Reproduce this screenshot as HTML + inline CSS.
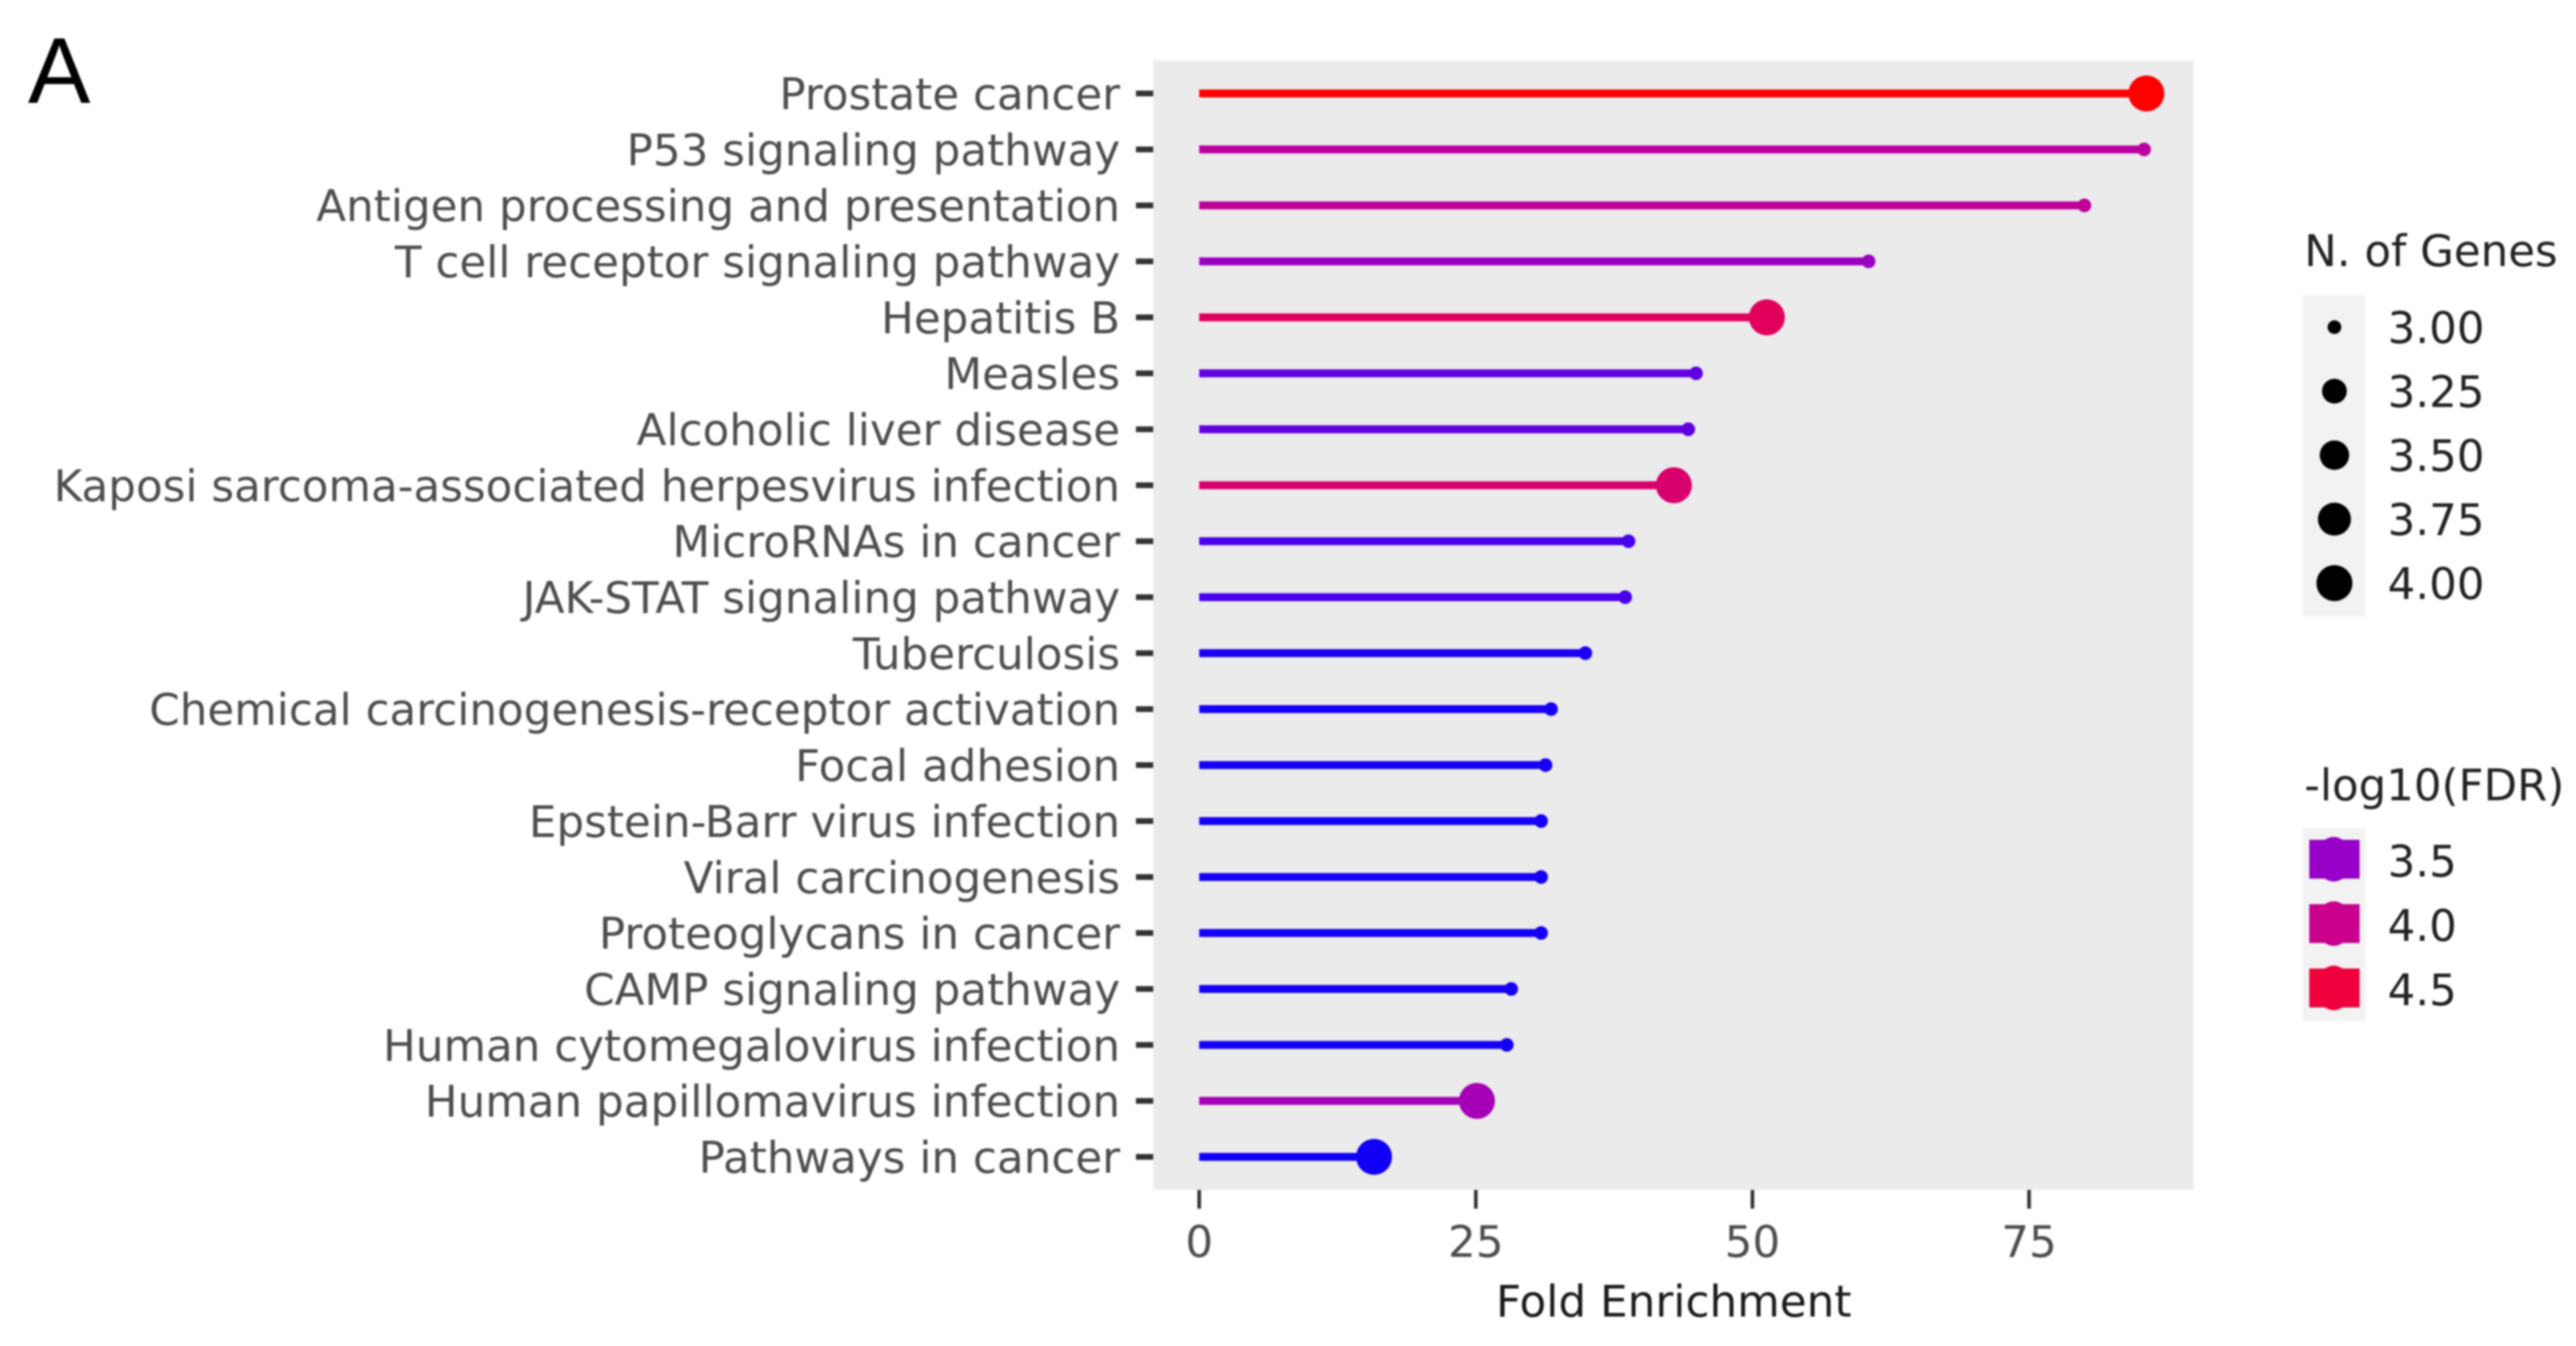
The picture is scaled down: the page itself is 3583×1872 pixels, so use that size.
<!DOCTYPE html>
<html lang="en">
<head>
<meta charset="utf-8">
<title>Fold Enrichment lollipop chart</title>
<style>
html,body{margin:0;padding:0;background:#fff;width:3583px;height:1872px;overflow:hidden}
svg{display:block;filter:blur(1.4px)}
text{font-family:"DejaVu Sans","Liberation Sans",sans-serif}
</style>
</head>
<body>
<svg id="chart" xmlns="http://www.w3.org/2000/svg" width="3583" height="1872" viewBox="0 0 3583 1872">
<rect x="0" y="0" width="3583" height="1872" fill="#fff"/>
<text x="39" y="143" font-size="130" fill="#000" style="font-family:'Liberation Sans',sans-serif">A</text>
<rect x="1604" y="84" width="1447" height="1571" fill="#ebebeb"/>
<text x="2328" y="1831" font-size="60.8" text-anchor="middle" fill="#1a1a1a">Fold Enrichment</text>
<text x="3205" y="370" font-size="60.5" fill="#222">N. of Genes</text>
<rect x="3203" y="410" width="87" height="447" fill="#f2f2f2"/>
<text x="3205" y="1113" font-size="60.5" fill="#222">-log10(FDR)</text>
<rect x="3203" y="1152" width="87" height="268" fill="#f2f2f2"/>
<g id="layer"></g>
</svg>
<script>
const categories = ["Prostate cancer","P53 signaling pathway","Antigen processing and presentation","T cell receptor signaling pathway","Hepatitis B","Measles","Alcoholic liver disease","Kaposi sarcoma-associated herpesvirus infection","MicroRNAs in cancer","JAK-STAT signaling pathway","Tuberculosis","Chemical carcinogenesis-receptor activation","Focal adhesion","Epstein-Barr virus infection","Viral carcinogenesis","Proteoglycans in cancer","CAMP signaling pathway","Human cytomegalovirus infection","Human papillomavirus infection","Pathways in cancer"];
const foldEnrichment = [85.6,85.4,80.0,60.5,51.3,44.9,44.2,42.9,38.8,38.5,34.9,31.8,31.3,30.9,30.9,30.9,28.2,27.8,25.1,15.8];
const geneCounts = [4,3,3,3,4,3,3,4,3,3,3,3,3,3,3,3,3,3,4,4];
const fdrValues = [4.65,3.85,3.9,3.55,4.3,3.25,3.25,4.2,3.05,3.05,2.85,2.82,2.82,2.82,2.82,2.82,2.82,2.82,3.65,2.8];
const xTicks = [0,25,50,75];
const sizeLegendValues = [3,3.25,3.5,3.75,4];
const sizeLegendLabels = ["3.00","3.25","3.50","3.75","4.00"];
const colorLegendValues = [3.5,4,4.5];
const colorLegendLabels = ["3.5","4.0","4.5"];

const NS = "http://www.w3.org/2000/svg";
const layer = document.getElementById("layer");
const xScale = function (v) { return 1668 + 15.39 * v; };
const yScale = function (i) { return 130 + 77.84 * i; };
const sizeScale = function (n) { return 9.5 + 15.5 * Math.sqrt(Math.max(0, n - 3)); };
const colorStops = [[2.8,[16,0,245]],[3.0,[66,0,240]],[3.25,[96,0,226]],[3.5,[150,0,200]],[4.0,[200,0,140]],[4.5,[240,0,60]],[4.65,[255,0,0]]];
const colorScale = function (f) {
  let i = 0;
  while (i < colorStops.length - 2 && f > colorStops[i + 1][0]) { i++; }
  const a = colorStops[i], b = colorStops[i + 1];
  const t = Math.min(1, Math.max(0, (f - a[0]) / (b[0] - a[0])));
  const c = a[1].map(function (v, k) { return Math.round(v + (b[1][k] - v) * t); });
  return "rgb(" + c.join(",") + ")";
};
const make = function (tag, attrs, parent, content) {
  const el = document.createElementNS(NS, tag);
  Object.keys(attrs).forEach(function (k) { el.setAttribute(k, attrs[k]); });
  if (content !== undefined) { el.textContent = content; }
  (parent || layer).appendChild(el);
  return el;
};

categories.forEach(function (name, i) {
  const y = yScale(i);
  const x = xScale(foldEnrichment[i]);
  const color = colorScale(fdrValues[i]);
  const label = make("text", {x: 1558, y: y + 22, "font-size": 60.7, "text-anchor": "end", fill: "#4d4d4d"}, layer, name);
  
  
  const tick = make("rect", {x: 1580, y: y - 4, width: 24, height: 8, fill: "#333"});
  
  
  const stem = make("rect", {x: xScale(0), y: y - 5.5, width: x - xScale(0), height: 11, fill: color});
  
  
  const dot = make("circle", {cx: x, cy: y, r: sizeScale(geneCounts[i]), fill: color});
  
  
});

xTicks.forEach(function (v) {
  const x = xScale(v);
  const tick = make("rect", {x: x - 2.5, y: 1655, width: 5, height: 26, fill: "#333"});
  
  
  const label = make("text", {x: x, y: 1748, "font-size": 60.7, "text-anchor": "middle", fill: "#4d4d4d"}, layer, String(v));
  
  
});

sizeLegendValues.forEach(function (v, i) {
  const y = 455 + 89 * i;
  const key = make("circle", {cx: 3247, cy: y, r: sizeScale(v), fill: "#000"});
  
  
  const label = make("text", {x: 3321, y: y + 22, "font-size": 60.5, fill: "#222"}, layer, sizeLegendLabels[i]);
  
  
});

colorLegendValues.forEach(function (v, i) {
  const y = 1195 + 89.5 * i;
  const color = colorScale(v);
  const swatch = make("rect", {x: 3212, y: y - 27, width: 70, height: 54, fill: color});
  
  
  const bump = make("ellipse", {cx: 3246, cy: y, rx: 25, ry: 31, fill: color});
  
  
  const label = make("text", {x: 3321, y: y + 24, "font-size": 60.5, fill: "#222"}, layer, colorLegendLabels[i]);
  
  
});
</script>
</body>
</html>
